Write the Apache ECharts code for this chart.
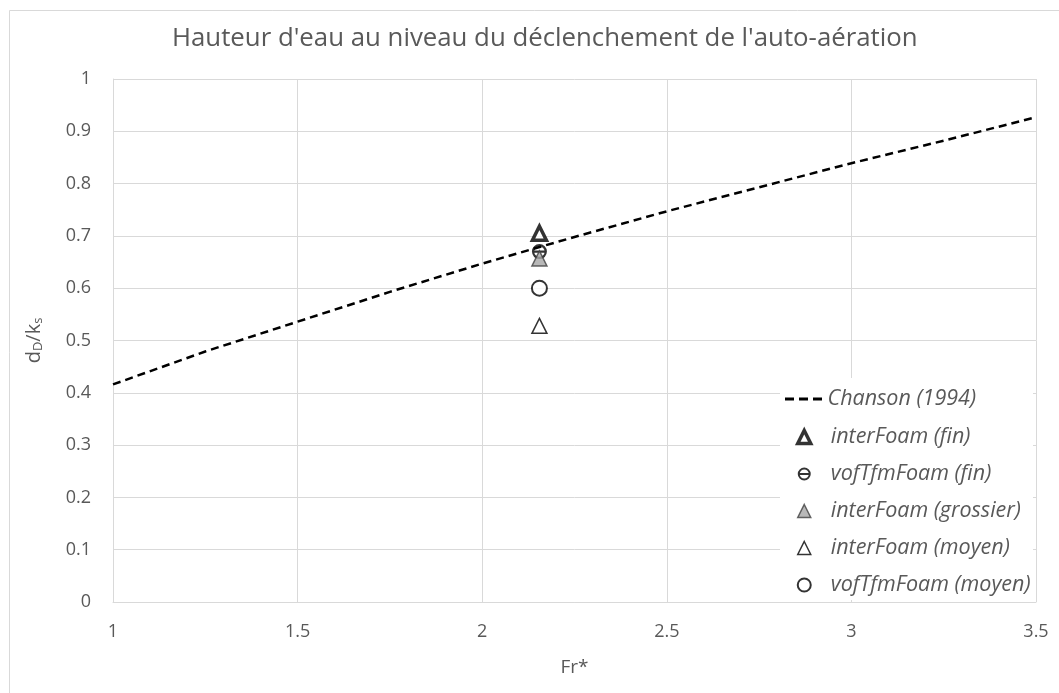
<!DOCTYPE html>
<html>
<head>
<meta charset="utf-8">
<script src="https://cdn.jsdelivr.net/npm/echarts@6/dist/echarts.min.js"></script>
<style>
  html, body { margin: 0; padding: 0; background: #fff; }
  #chart { width: 1059px; height: 693px; }
</style>
</head>
<body>
<div id="chart"></div>
<script>
// Chanson (1994) relation, sampled along Fr*
const chansonFr = [1, 1.25, 1.5, 1.75, 2, 2.25, 2.5, 2.75, 3, 3.25, 3.5];
const chansonDk = [0.416, 0.479, 0.536, 0.593, 0.647, 0.698, 0.747, 0.793, 0.839, 0.882, 0.927];

// Simulation results at the inception point
const frSim = 2.155;
const interFoamFin = [0.705];
const vofTfmFoamFin = [0.670];
const interFoamGrossier = [0.657];
const interFoamMoyen = [0.528];
const vofTfmFoamMoyen = [0.600];

const xTicks = [1, 1.5, 2, 2.5, 3, 3.5];
const yTicks = [0, 0.1, 0.2, 0.3, 0.4, 0.5, 0.6, 0.7, 0.8, 0.9, 1];

const seriesNames = [
  'Chanson (1994)',
  'interFoam (fin)',
  'vofTfmFoam (fin)',
  'interFoam (grossier)',
  'interFoam (moyen)',
  'vofTfmFoam (moyen)'
];

// circle outline with a horizontal bar across it
const barredCircle = 'path://M0,10 A10,10 0 1,1 20,10 A10,10 0 1,1 0,10 Z ' +
  'M3,10 A7,7 0 1,0 17,10 A7,7 0 1,0 3,10 Z M3,8.5 L17,8.5 L17,11.5 L3,11.5 Z';
// three short dashes for the line's legend key
const dashKey = 'path://M0,0 L9,0 L9,3 L0,3 Z M14,0 L23,0 L23,3 L14,3 Z M28,0 L37,0 L37,3 L28,3 Z';

const FONT = 'Open Sans';
const TXT = '#595959';
const GRID = '#d9d9d9';

const chart = echarts.init(document.getElementById('chart'), null, { renderer: 'canvas' });

const pts = vals => vals.map(v => [frSim, v]);

const markerStyles = [
  null,
  { color: '#fff', borderColor: '#000', borderWidth: 3.5 },
  { color: '#000', borderWidth: 0 },
  { color: '#a6a6a6', borderColor: '#404040', borderWidth: 1.5 },
  { color: '#fff', borderColor: '#000', borderWidth: 1.5 },
  { color: '#fff', borderColor: '#000', borderWidth: 2 }
];

chart.setOption({
  animation: false,
  backgroundColor: '#fff',
  textStyle: { fontFamily: FONT, color: TXT },
  title: {
    text: "Hauteur d'eau au niveau du déclenchement de l'auto-aération",
    left: 167,
    top: 21,
    textStyle: { fontFamily: FONT, fontSize: 25.8, fontWeight: 'normal', color: TXT }
  },
  graphic: [
    {
      type: 'rect',
      left: 7, top: 8,
      shape: { width: 1070, height: 700 },
      style: { fill: 'none', stroke: GRID, lineWidth: 1 },
      silent: true,
      z: -1
    },
    {
      // white panel behind the legend
      type: 'rect',
      left: 780, top: 378,
      shape: { width: 253, height: 222 },
      style: { fill: '#fff' },
      silent: true,
      z: 1
    }
  ],
  grid: { left: 113, right: 23, top: 79, bottom: 91, show: false },
  xAxis: {
    type: 'value',
    min: xTicks[0], max: xTicks[xTicks.length - 1], interval: 0.5,
    name: 'Fr*',
    nameLocation: 'middle',
    nameGap: 56,
    nameTextStyle: { fontFamily: FONT, fontSize: 19, color: TXT },
    axisLine: { show: true, lineStyle: { color: GRID, width: 1 } },
    axisTick: { show: false },
    axisLabel: { fontFamily: FONT, fontSize: 18, color: TXT, margin: 21 },
    splitLine: { show: true, lineStyle: { color: GRID, width: 1 } }
  },
  yAxis: {
    type: 'value',
    min: yTicks[0], max: yTicks[yTicks.length - 1], interval: 0.1,
    name: '{n|d}{s|D}{n|/k}{s|s}',
    nameLocation: 'middle',
    nameGap: 68,
    nameRotate: 90,
    nameTextStyle: {
      rich: {
        n: { fontFamily: FONT, fontSize: 20, color: TXT },
        s: { fontFamily: FONT, fontSize: 13, color: TXT, verticalAlign: 'bottom', padding: [9, 0, 0, 0] }
      }
    },
    axisLine: { show: true, lineStyle: { color: GRID, width: 1 } },
    axisTick: { show: false },
    axisLabel: {
      fontFamily: FONT, fontSize: 18, color: TXT, margin: 22,
      formatter: v => String(Math.round(v * 10) / 10)
    },
    splitLine: { show: true, lineStyle: { color: GRID, width: 1 } }
  },
  legend: [
    {
      orient: 'vertical',
      left: 785,
      top: 388,
      padding: 0,
      itemWidth: 38,
      itemHeight: 3,
      textStyle: { fontFamily: FONT, fontSize: 21.5, fontStyle: 'italic', color: TXT },
      data: [{ name: seriesNames[0], icon: dashKey }]
    },
    {
      orient: 'vertical',
      left: 796,
      top: 426,
      padding: 0,
      itemWidth: 13,
      itemHeight: 13,
      itemGap: 15,
      textStyle: { fontFamily: FONT, fontSize: 21.5, fontStyle: 'italic', color: TXT, padding: [0, 0, 0, 15] },
      data: seriesNames.slice(1).map((n, i) => ({ name: n, itemStyle: markerStyles[i + 1] }))
    }
  ],
  series: [
    {
      name: seriesNames[0],
      type: 'line',
      data: chansonFr.map((x, i) => [x, chansonDk[i]]),
      showSymbol: false,
      symbol: 'none',
      lineStyle: { color: '#000', width: 2.5, type: [8, 5] },
      itemStyle: { color: '#000' },
      z: 2
    },
    {
      name: seriesNames[1],
      type: 'scatter',
      data: pts(interFoamFin),
      symbol: 'triangle',
      symbolSize: 14,
      itemStyle: markerStyles[1],
      z: 3
    },
    {
      name: seriesNames[2],
      type: 'scatter',
      data: pts(vofTfmFoamFin),
      symbol: barredCircle,
      symbolSize: 15,
      itemStyle: markerStyles[2],
      z: 3
    },
    {
      name: seriesNames[3],
      type: 'scatter',
      data: pts(interFoamGrossier),
      symbol: 'triangle',
      symbolSize: 15,
      itemStyle: markerStyles[3],
      z: 3
    },
    {
      name: seriesNames[4],
      type: 'scatter',
      data: pts(interFoamMoyen),
      symbol: 'triangle',
      symbolSize: 15,
      itemStyle: markerStyles[4],
      z: 3
    },
    {
      name: seriesNames[5],
      type: 'scatter',
      data: pts(vofTfmFoamMoyen),
      symbol: 'circle',
      symbolSize: 15,
      itemStyle: markerStyles[5],
      z: 3
    }
  ]
});
</script>
</body>
</html>
